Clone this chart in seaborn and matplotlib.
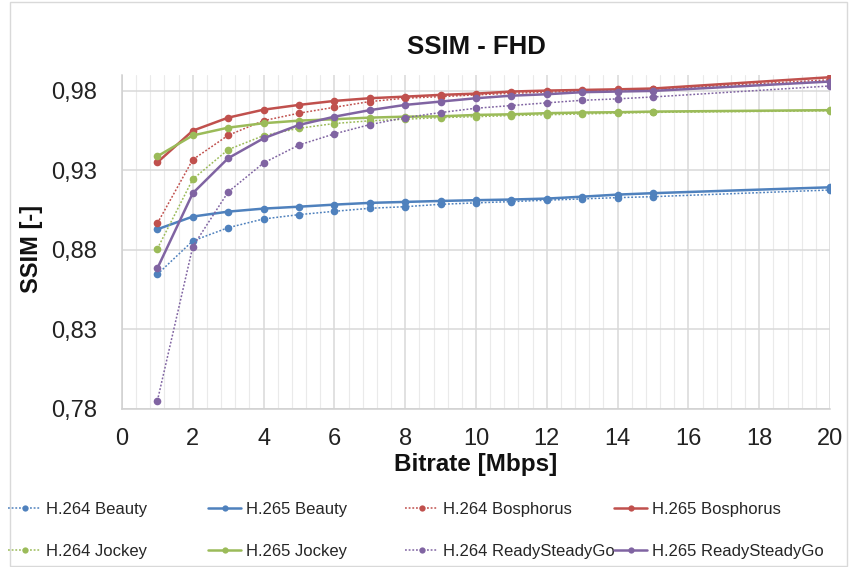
import matplotlib
matplotlib.use("Agg")
import matplotlib.pyplot as plt
from matplotlib.lines import Line2D
from matplotlib.patches import Rectangle
import seaborn as sns
import pandas as pd

bitrate = [1, 2, 3, 4, 5, 6, 7, 8, 9, 10, 11, 12, 13, 14, 15, 20]

h264_beauty = [0.8647, 0.8857, 0.8940, 0.8995, 0.9022, 0.9043, 0.9062, 0.9072,
               0.9087, 0.9096, 0.9104, 0.9113, 0.9121, 0.9129, 0.9135, 0.9177]
h265_beauty = [0.8930, 0.9010, 0.9041, 0.9060, 0.9072, 0.9085, 0.9096, 0.9102,
               0.9108, 0.9113, 0.9117, 0.9123, 0.9135, 0.9148, 0.9157, 0.9194]
h264_bosphorus = [0.8968, 0.9368, 0.9521, 0.9613, 0.9660, 0.9697, 0.9733, 0.9754,
                  0.9764, 0.9775, 0.9785, 0.9792, 0.9798, 0.9804, 0.9810, 0.9870]
h265_bosphorus = [0.9351, 0.9550, 0.9632, 0.9682, 0.9712, 0.9737, 0.9754, 0.9764,
                  0.9775, 0.9783, 0.9796, 0.9802, 0.9806, 0.9810, 0.9815, 0.9886]
h264_jockey = [0.8808, 0.9245, 0.9431, 0.9519, 0.9565, 0.9595, 0.9612, 0.9622,
               0.9632, 0.9638, 0.9645, 0.9650, 0.9655, 0.9660, 0.9665, 0.9675]
h265_jockey = [0.9389, 0.9520, 0.9569, 0.9597, 0.9613, 0.9622, 0.9632, 0.9638,
               0.9640, 0.9649, 0.9653, 0.9660, 0.9664, 0.9666, 0.9670, 0.9679]
h264_rsg = [0.7852, 0.8821, 0.9165, 0.9347, 0.9460, 0.9530, 0.9588, 0.9632,
            0.9664, 0.9691, 0.9708, 0.9725, 0.9741, 0.9750, 0.9762, 0.9831]
h265_rsg = [0.8685, 0.9157, 0.9377, 0.9502, 0.9586, 0.9638, 0.9679, 0.9712,
            0.9733, 0.9754, 0.9770, 0.9779, 0.9792, 0.9796, 0.9800, 0.9859]

series_names = ["H.264 Beauty", "H.265 Beauty", "H.264 Bosphorus", "H.265 Bosphorus",
                "H.264 Jockey", "H.265 Jockey", "H.264 ReadySteadyGo", "H.265 ReadySteadyGo"]
series_values = [h264_beauty, h265_beauty, h264_bosphorus, h265_bosphorus,
                 h264_jockey, h265_jockey, h264_rsg, h265_rsg]

y_ticks = [0.78, 0.83, 0.88, 0.93, 0.98]
y_tick_labels = ["0,78", "0,83", "0,88", "0,93", "0,98"]
x_ticks = [0, 2, 4, 6, 8, 10, 12, 14, 16, 18, 20]

colors = {"Beauty": "#4F81BD", "Bosphorus": "#C0504D",
          "Jockey": "#9BBB59", "ReadySteadyGo": "#8064A2"}

sns.set_theme(style="white")
plt.rcParams["font.family"] = ["Liberation Sans", "DejaVu Sans"]

fig = plt.figure(figsize=(8.49, 5.67), dpi=100)
ax = fig.add_axes([122 / 849, 1 - 409 / 567, (830 - 122) / 849, (409 - 75) / 567])

handles = []
for name, vals in zip(series_names, series_values):
    codec, seq = name.split(" ", 1)
    df = pd.DataFrame({"x": bitrate, "y": vals})
    dotted = codec == "H.264"
    ls = (0, (1.2, 1.2)) if dotted else "-"
    lw = 1.1 if dotted else 1.8
    sns.lineplot(data=df, x="x", y="y", ax=ax, color=colors[seq], linestyle=ls,
                 linewidth=lw, marker="o", markersize=5.5, markeredgewidth=0,
                 sort=False, zorder=3)
    handles.append(Line2D([], [], color=colors[seq], linestyle=ls, linewidth=lw,
                          marker="o", markersize=4.5, markeredgewidth=0))

ax.set_xlim(0, 20)
ax.set_ylim(0.78, 0.99)
ax.set_xticks(x_ticks)
ax.set_xticklabels([str(t) for t in x_ticks])
ax.set_yticks(y_ticks)
ax.set_yticklabels(y_tick_labels)
ax.set_xticks([i * 0.4 for i in range(51)], minor=True)
ax.tick_params(axis="both", which="both", length=0, labelsize=17, colors="#222222")
ax.tick_params(axis="x", pad=14)
ax.tick_params(axis="y", pad=18)

ax.grid(True, which="major", axis="both", color="#D9D9D9", linewidth=1.1, zorder=0)
ax.grid(True, which="minor", axis="x", color="#EAEAEA", linewidth=0.8, zorder=0)
ax.set_axisbelow(True)
for side in ["top", "right"]:
    ax.spines[side].set_visible(False)
for side in ["left", "bottom"]:
    ax.spines[side].set_color("#D0D0D0")
    ax.spines[side].set_linewidth(1.1)

ax.set_title("SSIM - FHD", fontsize=18.5, fontweight="bold", color="#111111", pad=15)
ax.set_xlabel("Bitrate [Mbps]", fontsize=17.5, fontweight="bold", color="#111111")
ax.set_ylabel("SSIM [-]", fontsize=17, fontweight="bold", color="#111111")
ax.xaxis.set_label_coords(0.5, -0.133)
ax.yaxis.set_label_coords(-0.112, 0.48)

col_x = [8 / 849, 208 / 849, 405 / 849, 614 / 849]
for c in range(4):
    hs = [handles[c], handles[c + 4]]
    ls_ = [series_names[c], series_names[c + 4]]
    fig.legend(hs, ls_, loc="upper left", bbox_to_anchor=(col_x[c], 1 - 502 / 567),
               frameon=False, fontsize=12, handlelength=2.0, handletextpad=0.3,
               labelspacing=1.6, borderaxespad=0, borderpad=0)

fig.patches.append(Rectangle((10 / 849, 0.002), 837 / 849, 0.995, transform=fig.transFigure,
                             fill=False, edgecolor="#D9D9D9", linewidth=1))

fig.savefig("out.png", dpi=100)
